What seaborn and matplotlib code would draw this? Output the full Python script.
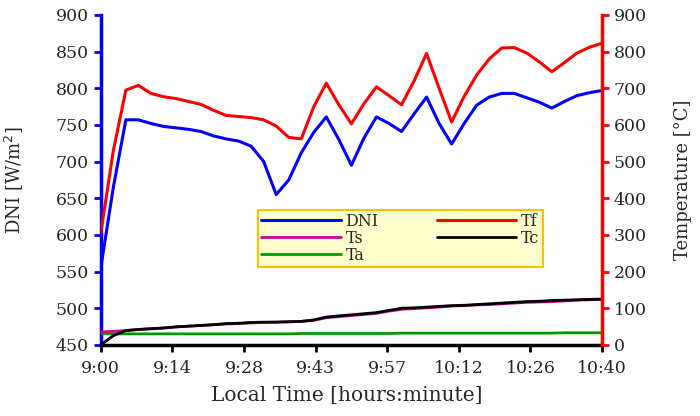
import numpy as np
import pandas as pd
import matplotlib
matplotlib.use("Agg")
import matplotlib.pyplot as plt
import seaborn as sns

sns.set_style("white")
plt.rcParams["font.family"] = ["DejaVu Serif"]

# minutes after 9:00, read every 2.5 min
minutes = [0, 2.5, 5, 7.5, 10, 12.5, 15, 17.5, 20, 22.5, 25, 27.5, 30, 32.5, 35, 37.5,
           40, 42.5, 45, 47.5, 50, 52.5, 55, 57.5, 60, 62.5, 65, 67.5, 70, 72.5, 75,
           77.5, 80, 82.5, 85, 87.5, 90, 92.5, 95, 97.5, 100]
dni = [555, 665, 757, 757, 752, 748, 746, 744, 741, 735, 731, 728, 721, 700, 655, 675,
       712, 740, 761, 730, 695, 732, 761, 752, 741, 765, 788, 752, 724, 752, 777,
       788, 793, 793, 787, 781, 773, 782, 790, 794, 797]
tf = [305, 530, 695, 708, 686, 677, 672, 664, 656, 640, 626, 623, 620, 614, 597, 566,
      562, 650, 714, 655, 603, 658, 704, 680, 655, 720, 795, 700, 608, 678, 736,
      780, 810, 811, 796, 772, 745, 770, 796, 812, 823]
ts = [35, 37, 39, 42, 44, 46, 49, 51, 53, 55, 57, 58, 60, 61, 62, 63,
      64, 67, 74, 77, 80, 83, 86, 92, 97, 99, 101, 103, 106, 107, 109,
      110, 112, 114, 116, 117, 118, 120, 122, 123, 124]
tc = [0, 25, 39, 42, 44, 46, 49, 51, 53, 55, 58, 59, 61, 62, 62, 63,
      64, 68, 76, 79, 82, 85, 88, 94, 100, 101, 103, 105, 107, 108, 110,
      112, 114, 116, 118, 119, 121, 122, 123, 124, 125]
ta = [30, 30, 30, 30, 30, 30, 30, 30, 30, 30, 30, 30, 30, 30, 30, 30,
      31, 31, 31, 31, 31, 31, 31, 31, 32, 32, 32, 32, 32, 32, 32,
      32, 32, 32, 32, 32, 32, 33, 33, 33, 33]

tick_labels = ["9:00", "9:14", "9:28", "9:43", "9:57", "10:12", "10:26", "10:40"]

df = pd.DataFrame({"t": minutes, "DNI": dni, "Tf": tf, "Ts": ts, "Tc": tc, "Ta": ta})

fig = plt.figure(figsize=(7, 4.16), dpi=100)
ax = fig.add_axes([0.144, 0.171, 0.716, 0.793])
ax2 = ax.twinx()

sns.lineplot(data=df, x="t", y="DNI", ax=ax, color="#0000FF", linewidth=2.2, label="DNI", legend=False)
sns.lineplot(data=df, x="t", y="Ta", ax=ax2, color="#009900", linewidth=2, label="Ta", legend=False)
sns.lineplot(data=df, x="t", y="Ts", ax=ax2, color="#CC0099", linewidth=2, label="Ts", legend=False)
sns.lineplot(data=df, x="t", y="Tc", ax=ax2, color="#000000", linewidth=2, label="Tc", legend=False)
sns.lineplot(data=df, x="t", y="Tf", ax=ax2, color="#FF0000", linewidth=2.2, label="Tf", legend=False)

ax.set_xlim(0, 100)
ax.set_ylim(450, 900)
ax2.set_ylim(0, 900)
ax.set_xticks(np.linspace(0, 100, len(tick_labels)))
ax.set_xticklabels(tick_labels)
ax.set_yticks(range(450, 901, 50))
ax2.set_yticks(range(0, 901, 100))

ax.set_xlabel("Local Time [hours:minute]", fontsize=14.5)
ax.set_ylabel("DNI [W/m$^2$]", fontsize=13)
ax2.set_ylabel("Temperature [°C]", fontsize=13)
ax2.set_xlabel("")
ax.xaxis.set_label_coords(0.49, -0.125)
ax.yaxis.set_label_coords(-0.15, 0.5)
ax2.yaxis.set_label_coords(1.144, 0.5)

for a in (ax, ax2):
    a.spines["top"].set_visible(False)
    a.grid(False)
ax.spines["right"].set_visible(False)
ax.spines["left"].set_color("#0000FF")
ax.spines["left"].set_linewidth(2.5)
ax.spines["bottom"].set_color("black")
ax.spines["bottom"].set_linewidth(2.5)
ax2.spines["left"].set_visible(False)
ax2.spines["bottom"].set_visible(False)
ax2.spines["right"].set_color("#FF0000")
ax2.spines["right"].set_linewidth(2.5)

ax.tick_params(axis="y", direction="out", length=5, width=2, color="#0000FF", labelsize=12.5, left=True)
ax.tick_params(axis="x", direction="out", length=5, width=2, color="black", labelsize=12.5, bottom=True, pad=6)
ax2.tick_params(axis="y", direction="out", length=5, width=2, color="#FF0000", labelsize=12.5, right=True)

lines = {l.get_label(): l for l in ax.get_lines() + ax2.get_lines()}
order = ["DNI", "Ts", "Ta", "Tf", "Tc"]
leg = ax2.legend([lines[k] for k in order], order, ncol=2, loc="lower left",
                 bbox_to_anchor=(0.313, 0.236, 0.569, 0.152), mode="expand", borderaxespad=0,
                 fontsize=11.5, handlelength=5, labelspacing=0.0, borderpad=0.2,
                 handletextpad=0.3, fancybox=False, framealpha=1)
leg.get_frame().set_facecolor("#FFFFCC")
leg.get_frame().set_edgecolor("#FFC000")
leg.get_frame().set_linewidth(1.5)

fig.savefig("out.png", dpi=100)
